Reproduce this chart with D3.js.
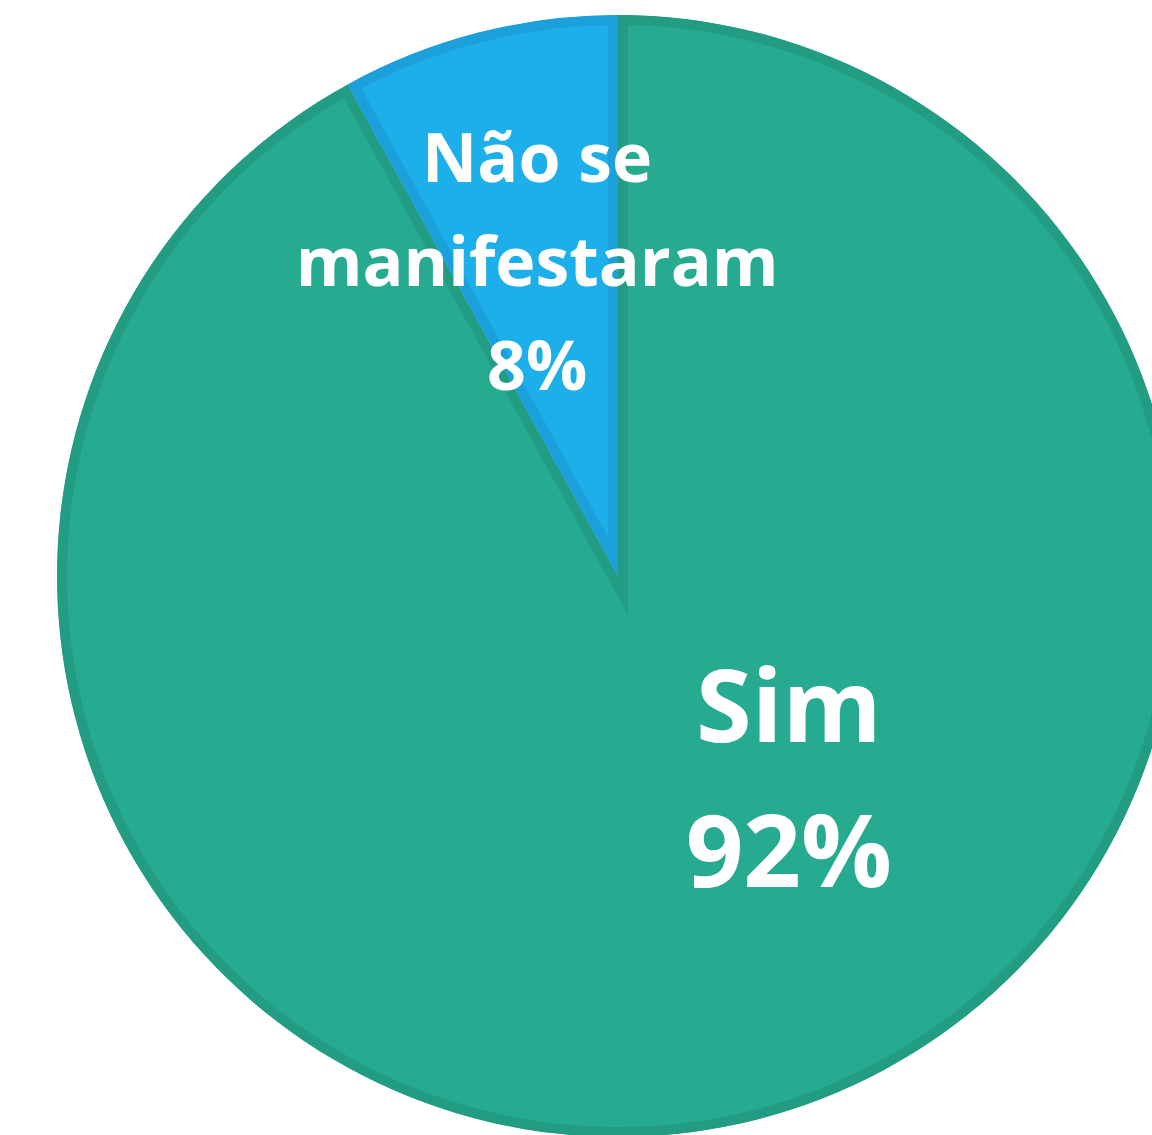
<!DOCTYPE html>
<html>
<head>
<meta charset="utf-8">
<script src="https://cdn.jsdelivr.net/npm/d3@7"></script>
<style>
  body { margin: 0; background: #fff; }
  svg { display: block; }
</style>
</head>
<body>
<svg id="chart"></svg>
<script>
// data
const categories = ["Sim", "Não se manifestaram"]
const values = [92, 8]
const labelLines = [["Sim", "92%"], ["Não se", "manifestaram", "8%"]]

const W = 1152, H = 1135
const cx = 618, cy = 576
const R = 561
const fills = ["#26ab91", "#1dafea"]
const borders = ["#229c83", "#1ba0db"]

// label placement (angle in degrees, radius as fraction of R, font size, line height)
const labelPos = [
    {ang: 139.6, rf: 0.47, fs: 101, lh: 145},
    {ang: null, rf: 0.58, fs: 68, lh: 104}
]

const svg = d3.select("#chart")
    .attr("width", W)
    .attr("height", H)

const pie = d3.pie().sort(null).value(d => d)
const arcs = pie(values)

const arc = d3.arc().innerRadius(0).outerRadius(R)

const g = svg.append("g")
    .attr("transform", `translate(${cx},${cy})`)

const defs = svg.append("defs")

arcs.forEach((a, i) => {
    defs.append("clipPath")
        .attr("id", "clip" + i)
        .append("path")
        .attr("d", arc(a))
})

g.selectAll("path.slice")
    .data(arcs)
    .join("path")
    .attr("class", "slice")
    .attr("d", arc)
    .attr("clip-path", (d, i) => `url(#clip${i})`)
    .attr("fill", (d, i) => fills[i])
    .attr("stroke", (d, i) => borders[i])
    .attr("stroke-width", 20)
    .attr("stroke-linejoin", "miter")
    .attr("stroke-miterlimit", 10)

// labels
arcs.forEach((a, i) => {
    const p = labelPos[i]
    const mid = p.ang == null ? (a.startAngle + a.endAngle) / 2 : p.ang * Math.PI / 180
    const lx = Math.sin(mid) * R * p.rf
    const ly = -Math.cos(mid) * R * p.rf
    const lines = labelLines[i]
    const n = lines.length
    const t = g.append("text")
        .attr("text-anchor", "middle")
        .attr("fill", "#fff")
        .style("font-family", "'Open Sans', sans-serif")
        .style("font-weight", "bold")
        .style("font-size", p.fs + "px")
    lines.forEach((s, j) => {
        t.append("tspan")
            .attr("x", lx)
            .attr("y", ly + (j - (n - 1) / 2) * p.lh + 0.37 * p.fs)
            .text(s)
    })
})
</script>
</body>
</html>
